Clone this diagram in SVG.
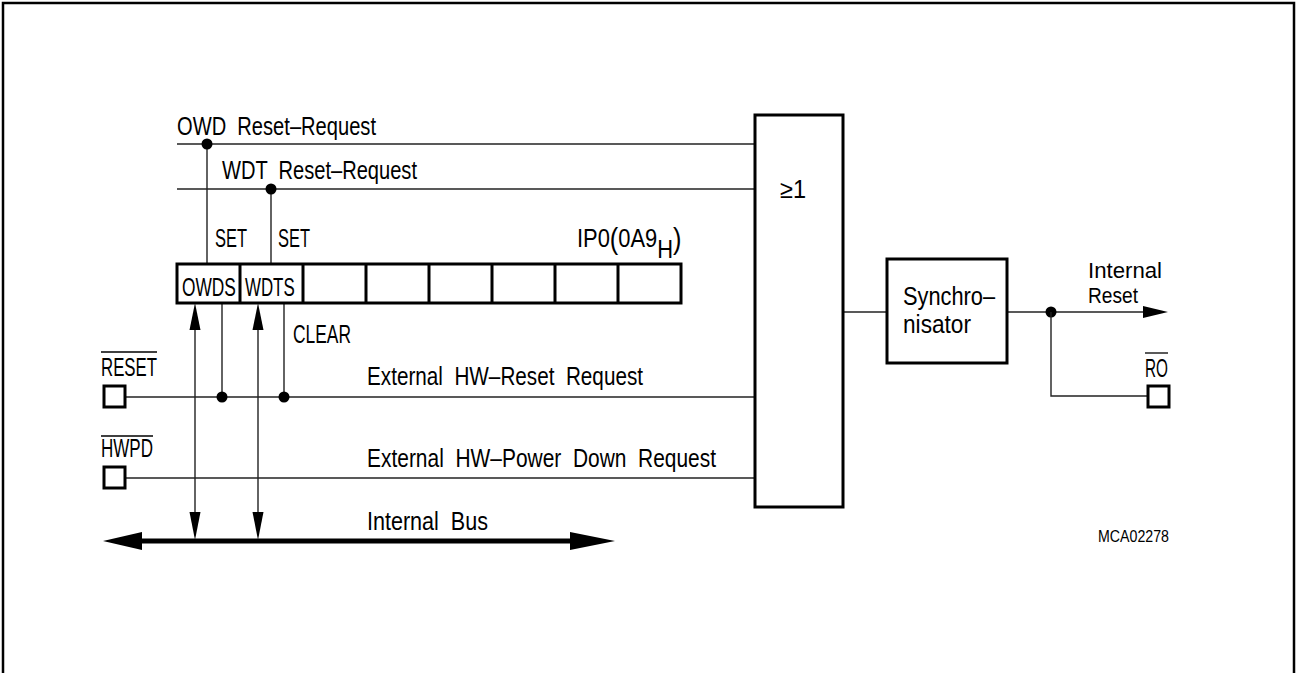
<svg xmlns="http://www.w3.org/2000/svg" width="1297" height="673" viewBox="0 0 1297 673">
<style>
text{font-family:"Liberation Sans Narrow","Liberation Sans",Arial,sans-serif;font-size:25px;fill:#000}
.ls{font-family:"Liberation Sans",Arial,sans-serif}
.sm{font-size:17px}
.md{font-size:22px}
.ln{stroke:#222;stroke-width:1.4;fill:none}
.bx{stroke:#000;stroke-width:3;fill:#fff}
.pin{stroke:#000;stroke-width:3;fill:#fff}
.ol{stroke:#000;stroke-width:1.3}
</style>
<rect width="1297" height="673" fill="#fff"/>
<path d="M3,673 V3 H1294 V673" fill="none" stroke="#000" stroke-width="2.5"/>

<g id="connectors">
  <line class="ln" x1="177" y1="144" x2="755" y2="144"/>
  <line class="ln" x1="177" y1="189" x2="755" y2="189"/>
  <line class="ln" x1="207" y1="144" x2="207" y2="264"/>
  <line class="ln" x1="271" y1="189" x2="271" y2="264"/>
  <circle cx="207" cy="144" r="5.5"/>
  <circle cx="271" cy="189" r="5.5"/>
  <line class="ln" x1="126" y1="397" x2="755" y2="397"/>
  <line class="ln" x1="126" y1="478" x2="755" y2="478"/>
  <line class="ln" x1="222" y1="303" x2="222" y2="397"/>
  <line class="ln" x1="284" y1="303" x2="284" y2="397"/>
  <circle cx="222" cy="397" r="5.5"/>
  <circle cx="284" cy="397" r="5.5"/>
  <line class="ln" x1="195" y1="320" x2="195" y2="520"/>
  <polygon points="195,303 189.5,330 200.5,330"/>
  <polygon points="195,540 189.5,512 200.5,512"/>
  <line class="ln" x1="258" y1="320" x2="258" y2="520"/>
  <polygon points="258,303 252.5,330 263.5,330"/>
  <polygon points="258,540 252.5,512 263.5,512"/>
  <line x1="135" y1="541" x2="575" y2="541" stroke="#000" stroke-width="5"/>
  <polygon points="103,541 142,532 142,550"/>
  <polygon points="615,541 570,532 570,550"/>
  <line class="ln" x1="843" y1="312" x2="887" y2="312"/>
  <line class="ln" x1="1007" y1="312" x2="1150" y2="312"/>
  <polygon points="1168,312 1143,306 1143,318"/>
  <circle cx="1051" cy="312" r="5.5"/>
  <polyline class="ln" points="1051,312 1051,396 1147,396"/>
</g>

<g id="labels-top">
  <text x="177" y="135" textLength="199" lengthAdjust="spacingAndGlyphs" xml:space="preserve">OWD  Reset–Request</text>
  <text x="222" y="179" textLength="195" lengthAdjust="spacingAndGlyphs" xml:space="preserve">WDT  Reset–Request</text>
  <text x="215" y="247" textLength="32" lengthAdjust="spacingAndGlyphs">SET</text>
  <text x="278" y="247" textLength="32" lengthAdjust="spacingAndGlyphs">SET</text>
  <text class="ls" transform="translate(577,247) scale(0.85,1)" textLength="123" lengthAdjust="spacingAndGlyphs">IP0<tspan font-size="29" dy="2">(</tspan><tspan dy="-2">0A9</tspan><tspan dy="11">H</tspan><tspan font-size="29" dy="-9">)</tspan></text>
</g>

<g id="register">
  <rect x="177" y="264" width="504" height="39" fill="#fff" stroke="#000" stroke-width="3"/>
  <path d="M240,264 V303 M303,264 V303 M366,264 V303 M429,264 V303 M492,264 V303 M555,264 V303 M618,264 V303" stroke="#000" stroke-width="3"/>
  <text class="ls" transform="translate(182,296) scale(0.7,1)" textLength="77" lengthAdjust="spacingAndGlyphs">OWDS</text>
  <text class="ls" transform="translate(245,296) scale(0.7,1)" textLength="71" lengthAdjust="spacingAndGlyphs">WDTS</text>
</g>

<g id="clear-label">
  <text x="293" y="343" textLength="58" lengthAdjust="spacingAndGlyphs">CLEAR</text>
</g>

<g id="pin-reset">
  <rect class="pin" x="104" y="386" width="21" height="21"/>
  <text x="101" y="376" textLength="56" lengthAdjust="spacingAndGlyphs">RESET</text>
  <line class="ol" x1="101" y1="352" x2="157" y2="352"/>
  <text x="367" y="385" textLength="276" lengthAdjust="spacingAndGlyphs" xml:space="preserve">External  HW–Reset  Request</text>
</g>

<g id="pin-hwpd">
  <rect class="pin" x="104" y="467" width="21" height="21"/>
  <text x="101" y="457" textLength="52" lengthAdjust="spacingAndGlyphs">HWPD</text>
  <line class="ol" x1="101" y1="436" x2="153" y2="436"/>
  <text x="367" y="467" textLength="349" lengthAdjust="spacingAndGlyphs" xml:space="preserve">External  HW–Power  Down  Request</text>
</g>

<g id="bus-label">
  <text x="367" y="530" textLength="121" lengthAdjust="spacingAndGlyphs" xml:space="preserve">Internal  Bus</text>
</g>

<g id="or-gate">
  <rect class="bx" x="755" y="115" width="88" height="392"/>
  <text x="780" y="198" textLength="26" lengthAdjust="spacingAndGlyphs">≥1</text>
</g>

<g id="synchronisator">
  <rect class="bx" x="887" y="259" width="120" height="104"/>
  <text x="903" y="305" textLength="92" lengthAdjust="spacingAndGlyphs">Synchro–</text>
  <text x="903" y="333" textLength="68" lengthAdjust="spacingAndGlyphs">nisator</text>
</g>

<g id="internal-reset">
  <text class="md" x="1088" y="278" textLength="74" lengthAdjust="spacingAndGlyphs">Internal</text>
  <text class="md" x="1088" y="303" textLength="50" lengthAdjust="spacingAndGlyphs">Reset</text>
</g>

<g id="pin-ro">
  <rect class="pin" x="1148" y="386" width="21" height="21"/>
  <text x="1145" y="377" textLength="23" lengthAdjust="spacingAndGlyphs">RO</text>
  <line class="ol" x1="1145" y1="353" x2="1168" y2="353"/>
</g>

<g id="figure-id">
  <text class="sm" x="1098" y="542" textLength="71" lengthAdjust="spacingAndGlyphs">MCA02278</text>
</g>
</svg>
